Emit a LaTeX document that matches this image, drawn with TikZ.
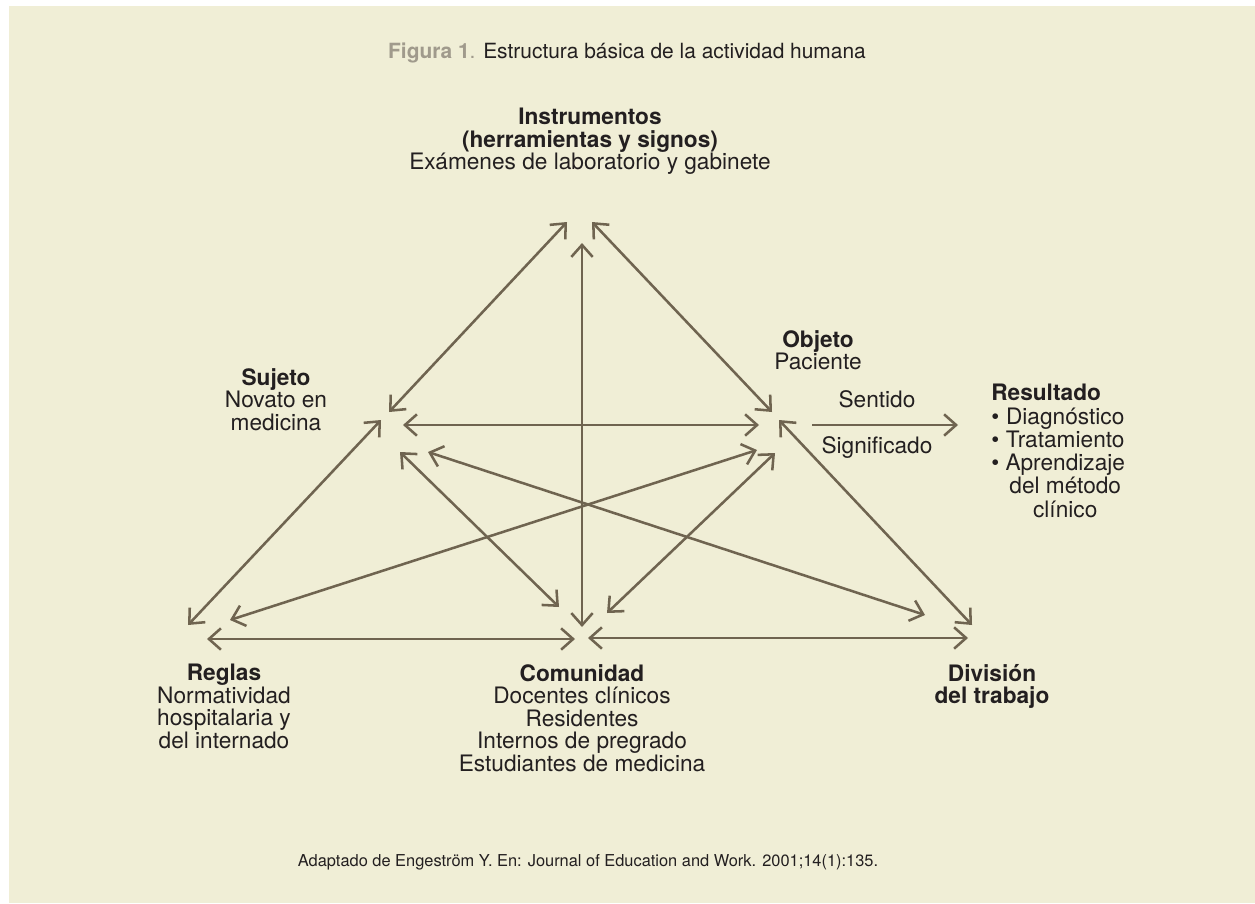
\documentclass[tikz,border=0pt]{standalone}
\usepackage{fontspec}
\setmainfont{TeX Gyre Heros}
\usetikzlibrary{arrows.meta,positioning}

\definecolor{bgbeige}{HTML}{F0EED6}
\definecolor{arrowbrown}{HTML}{6F6450}
\definecolor{inkdark}{HTML}{231F20}
\definecolor{figgray}{HTML}{A09A8C}

\tikzset{
    barb/.tip={Straight Barb[length=9pt,width=16pt]},
    link/.style={draw=arrowbrown, line width=1.9pt, barb-barb},
    oneway/.style={draw=arrowbrown, line width=1.9pt, -barb},
    txt/.style={text=inkdark, align=center, inner sep=0pt,
        font=\fontsize{17}{16.9}\selectfont},
}

\begin{document}
\begin{tikzpicture}[x=0.75pt,y=-0.75pt]

    \useasboundingbox (0,0) rectangle (1255,903);
    \fill[bgbeige] (9,6) rectangle (1255,903);

    % title and source
    \node[txt, font=\fontsize{15.7}{18}\selectfont] (title) at (627,53)
        {\textcolor{figgray}{\textbf{Figura 1}.} Estructura básica de la actividad humana};
    \node[txt, font=\fontsize{12.3}{14}\selectfont] (source) at (588,862)
        {Adaptado de Engeström Y. En: Journal of Education and Work. 2001;14(1):135.};

    % corner labels
    \node[txt, anchor=north] (instr) at (590,108)
        {\textbf{Instrumentos}\\\textbf{(herramientas y signos)}\\Exámenes de laboratorio y gabinete};
    \node[txt, anchor=north] (suj) at (276,368) {\textbf{Sujeto}\\Novato en\\medicina};
    \node[txt, anchor=north] (obj) at (818,330) {\textbf{Objeto}\\Paciente};
    \node[txt, anchor=north west] (res) at (991,384)
        {\begin{tabular}{@{}l@{\ }c@{}}
            \multicolumn{2}{@{}l@{}}{\textbf{Resultado}}\\
            \textbullet & Diagnóstico\\
            \textbullet & Tratamiento\\
            \textbullet & Aprendizaje\\
                        & del método\\
                        & clínico
        \end{tabular}};
    \node[txt, anchor=north] (reg) at (224,664)
        {\textbf{Reglas}\\Normatividad\\hospitalaria y\\del internado};
    \node[txt, anchor=north] (com) at (582,664)
        {\textbf{Comunidad}\\Docentes clínicos\\Residentes\\Internos de pregrado\\Estudiantes de medicina};
    \node[txt, anchor=north] (div) at (992,664) {\textbf{División}\\\textbf{del trabajo}};

    % arrow ends
    \coordinate (i-s) at (567,222);  \coordinate (s-i) at (389,412);
    \coordinate (i-o) at (592,222);  \coordinate (o-i) at (772,412);
    \coordinate (i-c) at (582,243);  \coordinate (c-i) at (582,627);
    \coordinate (s-o) at (403,425);  \coordinate (o-s) at (759,425);
    \coordinate (r-s) at (188,625);  \coordinate (s-r) at (381,420);
    \coordinate (r-o) at (230,620);  \coordinate (o-r) at (757,450);
    \coordinate (r-c) at (207,639);  \coordinate (c-r) at (575,639);
    \coordinate (c-d) at (588,638);  \coordinate (d-c) at (968,638);
    \coordinate (s-c) at (400,452);  \coordinate (c-s) at (559,607);
    \coordinate (s-d) at (428,452);  \coordinate (d-s) at (925,615);
    \coordinate (o-c) at (775,453);  \coordinate (c-o) at (607,613);
    \coordinate (o-d) at (779,420);  \coordinate (d-o) at (972,625);
    \coordinate (o-res) at (812,425); \coordinate (res-o) at (958,425);

    \draw[link] (s-i) -- (i-s);
    \draw[link] (o-i) -- (i-o);
    \draw[link] (c-i) -- (i-c);
    \draw[link] (s-o) -- (o-s);
    \draw[link] (r-s) -- (s-r);
    \draw[link] (r-o) -- (o-r);
    \draw[link] (r-c) -- (c-r);
    \draw[link] (c-d) -- (d-c);
    \draw[link] (s-c) -- (c-s);
    \draw[link] (s-d) -- (d-s);
    \draw[link] (o-c) -- (c-o);
    \draw[link] (o-d) -- (d-o);

    % object to outcome
    \draw[oneway] (o-res) -- (res-o)
        node[txt, midway, above=12pt, xshift=-6pt] (sent) {Sentido}
        node[txt, midway, below=8pt, xshift=-6pt] (signif) {Significado};

\end{tikzpicture}
\end{document}
